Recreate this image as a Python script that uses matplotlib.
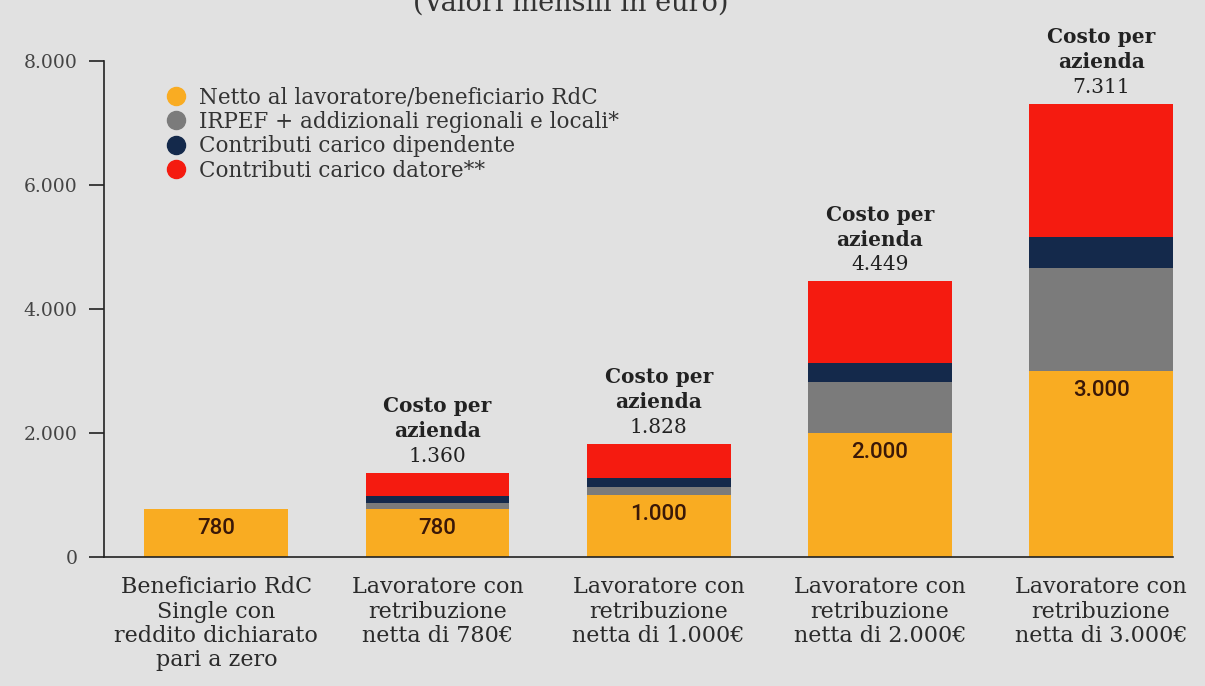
import matplotlib.pyplot as plt
from matplotlib.lines import Line2D
import numpy as np

# monthly values in euro
categories = [
    "Beneficiario RdC\nSingle con\nreddito dichiarato\npari a zero",
    "Lavoratore con\nretribuzione\nnetta di 780€",
    "Lavoratore con\nretribuzione\nnetta di 1.000€",
    "Lavoratore con\nretribuzione\nnetta di 2.000€",
    "Lavoratore con\nretribuzione\nnetta di 3.000€",
]
netto = [780, 780, 1000, 2000, 3000]
irpef = [0, 95, 134, 828, 1666]
contrib_dip = [0, 110, 145, 295, 500]
contrib_dat = [0, 375, 549, 1326, 2145]
costo_label = [None, "1.360", "1.828", "4.449", "7.311"]
netto_label = ["780", "780", "1.000", "2.000", "3.000"]

series_names = [
    "Netto al lavoratore/beneficiario RdC",
    "IRPEF + addizionali regionali e locali*",
    "Contributi carico dipendente",
    "Contributi carico datore**",
]
colors = ["#f9ac22", "#7b7b7b", "#14294b", "#f51b10"]
BG = "#e1e1e1"

fig = plt.figure(figsize=(12.05, 6.86), dpi=100, facecolor=BG)
ax = fig.add_axes([0.0863, 0.188, 0.8871, 0.723])
ax.set_facecolor(BG)

x = np.arange(len(categories))
w = 0.65
bottom = np.zeros(len(x))
for vals, col in zip([netto, irpef, contrib_dip, contrib_dat], colors):
    ax.bar(x, vals, w, bottom=bottom, color=col, linewidth=0)
    bottom += np.array(vals)

# values inside the yellow segment
for xi, v, lab in zip(x, netto, netto_label):
    ax.annotate(lab, (xi, v), xytext=(0, -14), textcoords="offset points",
                ha="center", va="center", fontsize=16, family="Roboto",
                fontweight="medium", color="#3a1808")

# cost labels above the bars
for xi, top, lab in zip(x, bottom, costo_label):
    if lab is None:
        continue
    for txt, dy, wt in [(lab, 12, "normal"), ("azienda", 30, "bold"),
                        ("Costo per", 48, "bold")]:
        ax.annotate(txt, (xi, top), xytext=(0, dy), textcoords="offset points",
                    ha="center", va="center", fontsize=14.5,
                    family="DejaVu Serif", fontweight=wt, color="#222222",
                    annotation_clip=False)

ax.set_xlim(-0.508, x[-1] + w / 2)
ax.set_ylim(0, 8000)
ax.set_yticks([0, 2000, 4000, 6000, 8000])
ax.set_yticklabels(["0", "2.000", "4.000", "6.000", "8.000"],
                   family="DejaVu Serif", fontsize=13.5, color="#444444")
ax.tick_params(axis="y", length=11, width=1.2, color="#222222", pad=8)
ax.set_xticks(x)
ax.set_xticklabels(categories, family="DejaVu Serif", fontsize=16,
                   color="#2a2a2a", linespacing=1.13)
ax.tick_params(axis="x", length=0, pad=14)
for s in ["top", "right"]:
    ax.spines[s].set_visible(False)
for s in ["left", "bottom"]:
    ax.spines[s].set_color("#222222")
    ax.spines[s].set_linewidth(1.2)

handles = [Line2D([], [], marker="o", linestyle="none", markersize=13,
                  markerfacecolor=c, markeredgecolor=c) for c in colors]
leg = fig.legend(handles, series_names, loc="upper left",
                 bbox_to_anchor=(0.121, 0.887), frameon=False,
                 handletextpad=0.05, labelspacing=0.12, borderaxespad=0,
                 prop={"family": "DejaVu Serif", "size": 15.5})
for t in leg.get_texts():
    t.set_color("#333333")

fig.text(0.474, 0.984, "(Valori mensili in euro)", ha="center",
         va="baseline", fontsize=19.5, family="DejaVu Serif", color="#333333")

fig.savefig("out.png", dpi=100, facecolor=BG)
